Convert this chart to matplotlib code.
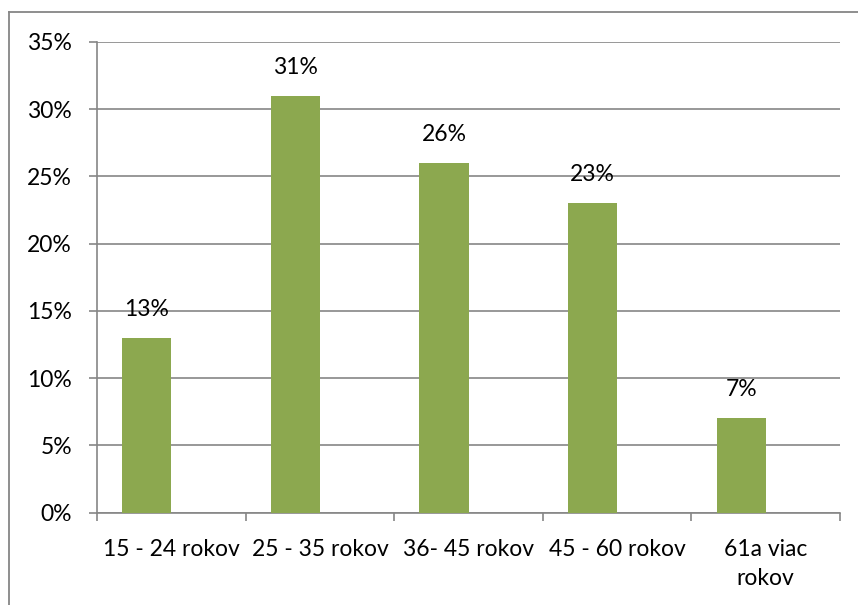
import matplotlib.pyplot as plt
from matplotlib.lines import Line2D
from matplotlib.ticker import FixedLocator

categories = ["15 - 24 rokov", "25 - 35 rokov", "36- 45 rokov", "45 - 60 rokov", "61a viac\nrokov"]
values = [13, 31, 26, 23, 7]
y_ticks = [0, 5, 10, 15, 20, 25, 30, 35]

plt.rcParams['font.family'] = ['Lato', 'DejaVu Sans']
gray = "#868686"
fs = 16.5

fig = plt.figure(figsize=(8.58, 6.05), dpi=100)
ax = fig.add_axes([97 / 858, 1 - 512.5 / 605, (840 - 97) / 858, (512.5 - 42) / 605])

x = list(range(len(categories)))
# bars sit in the left half of each category (empty second series in the source)
bar_x = [i - 0.165 for i in x]
ax.bar(bar_x, values, width=0.33, color="#8CA84F", zorder=3)
for bx, v in zip(bar_x, values):
    ax.annotate(f"{v}%", (bx, v), xytext=(0, 13), textcoords="offset points",
                ha="center", va="bottom", fontsize=fs)

ax.set_xlim(-0.5, len(categories) - 0.5)
ax.set_ylim(0, 35)
ax.set_yticks(y_ticks)
ax.set_yticklabels([f"{t}%" for t in y_ticks], fontsize=fs)
ax.set_xticks(x)
ax.set_xticklabels(categories, fontsize=fs, linespacing=1.45)
ax.tick_params(axis="x", length=0, pad=19)
ax.xaxis.set_minor_locator(FixedLocator([i - 0.5 for i in range(len(categories) + 1)]))
ax.tick_params(axis="x", which="minor", length=6, color=gray, width=1.2)
ax.tick_params(axis="y", length=6, color=gray, width=1.2, pad=12)

ax.grid(axis="y", color=gray, linewidth=1.2, zorder=0)
for s in ["top", "right"]:
    ax.spines[s].set_visible(False)
for s in ["left", "bottom"]:
    ax.spines[s].set_color(gray)
    ax.spines[s].set_linewidth(1.2)

# outer chart border (left and top only visible)
fig.add_artist(Line2D([9 / 858, 9 / 858], [0, 1 - 12 / 605], color=gray, linewidth=1.3))
fig.add_artist(Line2D([9 / 858, 1], [1 - 12 / 605, 1 - 12 / 605], color=gray, linewidth=1.3))

fig.savefig("out.png", dpi=100)
